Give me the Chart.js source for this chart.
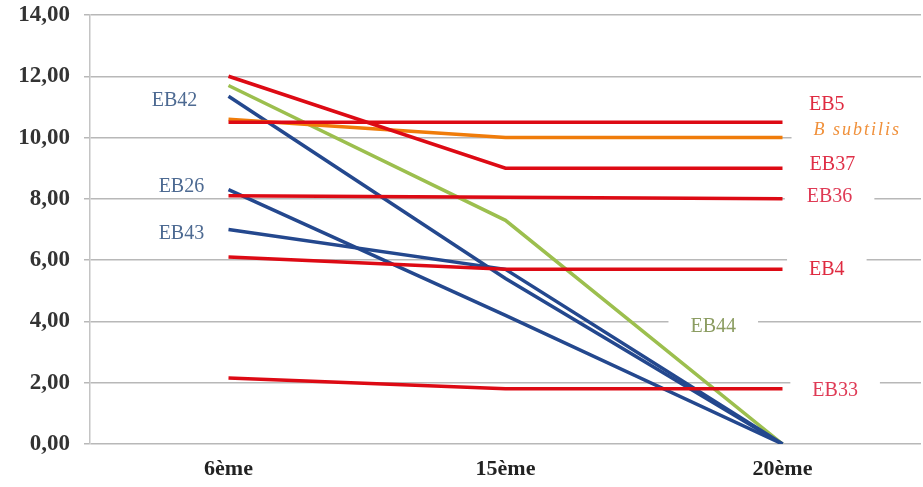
<!DOCTYPE html>
<html>
<head>
<meta charset="utf-8">
<script src="https://cdn.jsdelivr.net/npm/chart.js@4/dist/chart.umd.min.js"></script>
<style>
  html, body { margin: 0; padding: 0; background: #fff; }
  #wrap { width: 923px; height: 487px; }
</style>
</head>
<body>
<div id="wrap"><canvas id="c" width="923" height="487"></canvas></div>
<script>
// Sampling stages
const stages = ['6ème', '15ème', '20ème'];

// Measured values per strain
const eb5 = [10.5, 10.5, 10.5];
const bSubtilis = [10.6, 10.0, 10.0];
const eb37 = [12.0, 9.0, 9.0];
const eb36 = [8.1, 8.05, 8.0];
const eb4 = [6.1, 5.7, 5.7];
const eb33 = [2.15, 1.8, 1.8];
const eb42 = [11.35, 5.4, 0];
const eb26 = [8.3, 4.2, 0];
const eb43 = [7.0, 5.7, 0];
const eb44 = [11.7, 7.3, 0];

// Y axis tick values
const yTicks = [0, 2, 4, 6, 8, 10, 12, 14];

const RED = '#dd0a14';
const BLUE = '#24488e';
const GREEN = '#9cbf4e';
const ORANGE = '#f07c0a';

function line(label, data, color) {
  return { label, data, borderColor: color, backgroundColor: color, borderWidth: 3.5,
           pointRadius: 0, pointHoverRadius: 0, tension: 0, fill: false };
}

// Text tags beside the lines, positioned in scale units (category index, value)
const tags = [
  { text: 'EB42', x: -0.195, y: 11.2, color: '#4d6a92' },
  { text: 'EB26', x: -0.17, y: 8.4, color: '#4d6a92' },
  { text: 'EB43', x: -0.17, y: 6.86, color: '#4d6a92' },
  { text: 'EB5', x: 2.16, y: 11.08, color: '#df2a40' },
  { text: 'B subtilis', x: 2.27, y: 10.23, color: '#f0903a', italic: true, size: 18, spacing: 2 },
  { text: 'EB37', x: 2.18, y: 9.12, color: '#df3048' },
  { text: 'EB36', x: 2.17, y: 8.07, color: '#df3a55' },
  { text: 'EB4', x: 2.16, y: 5.69, color: '#df2a40' },
  { text: 'EB44', x: 1.75, y: 3.82, color: '#8c9d62' },
  { text: 'EB33', x: 2.19, y: 1.73, color: '#df3a55' }
];

const tagPlugin = {
  id: 'tags',
  afterDatasetsDraw(chart) {
    const ctx = chart.ctx;
    const xs = chart.scales.x, ys = chart.scales.y;
    const step = xs.getPixelForValue(1) - xs.getPixelForValue(0);
    ctx.save();
    tags.forEach(t => {
      const px = xs.getPixelForValue(0) + t.x * step;
      const py = ys.getPixelForValue(t.y);
      const size = t.size || 20;
      ctx.font = (t.italic ? 'italic ' : '') + size + 'px "Liberation Serif", serif';
      ctx.letterSpacing = (t.spacing || 0) + 'px';
      const w = ctx.measureText(t.text).width;
      ctx.fillStyle = '#ffffff';
      ctx.fillRect(px - w / 2 - 22, py - 11, w + 44, 22);
      ctx.fillStyle = t.color;
      ctx.textAlign = 'center';
      ctx.textBaseline = 'middle';
      ctx.fillText(t.text, px, py);
    });
    ctx.restore();
  }
};

new Chart(document.getElementById('c'), {
  type: 'line',
  data: {
    labels: stages,
    datasets: [
      line('EB33', eb33, RED),
      line('EB4', eb4, RED),
      line('EB36', eb36, RED),
      line('EB37', eb37, RED),
      line('EB5', eb5, RED),
      line('B subtilis', bSubtilis, ORANGE),
      line('EB43', eb43, BLUE),
      line('EB26', eb26, BLUE),
      line('EB44', eb44, GREEN),
      line('EB42', eb42, BLUE)
    ]
  },
  options: {
    responsive: false,
    animation: false,
    events: [],
    layout: { padding: { top: 15, right: 2, left: 0, bottom: 0 } },
    plugins: { legend: { display: false }, tooltip: { enabled: false } },
    scales: {
      x: {
        type: 'category',
        offset: true,
        grid: { display: false, drawTicks: false },
        border: { display: false },
        ticks: { color: '#222', padding: 12,
                 font: { family: '"Liberation Serif", serif', size: 22, weight: 'bold' } },
        afterFit(s) { s.height = 43; s.paddingLeft = 0; s.paddingRight = 0; }
      },
      y: {
        min: 0, max: 14,
        afterBuildTicks(s) { s.ticks = yTicks.map(v => ({ value: v })); },
        grid: { color: '#b8b8b8', lineWidth: 1.5, tickLength: 6, drawTicks: true },
        border: { display: true, color: '#c4c4c4', width: 1.5 },
        ticks: {
          color: '#333', padding: 14,
          font: { family: '"Liberation Serif", serif', size: 23, weight: 'bold' },
          callback: v => v.toFixed(2).replace('.', ',')
        },
        afterFit(s) { s.width = 90; s.paddingTop = 0; s.paddingBottom = 0; }
      }
    }
  },
  plugins: [tagPlugin]
});
</script>
</body>
</html>
